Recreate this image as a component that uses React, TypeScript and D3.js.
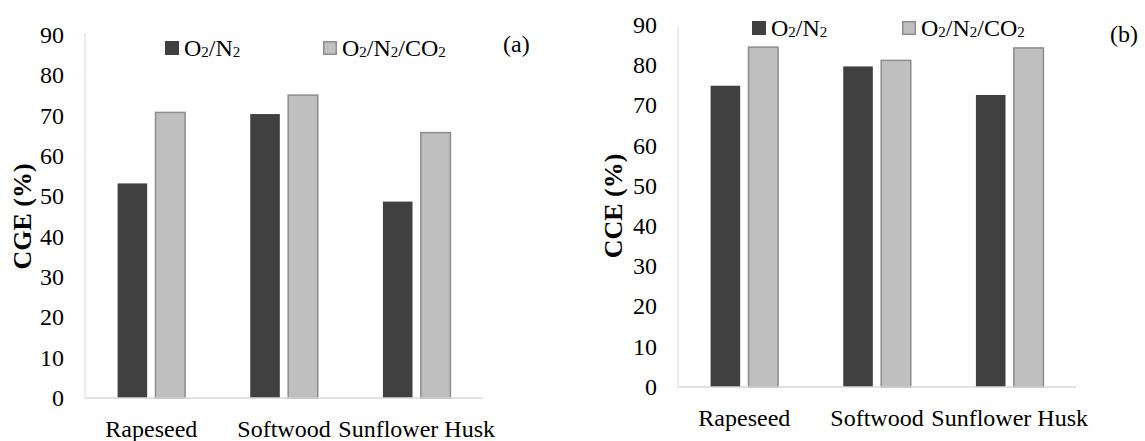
import React from "react";
import * as d3 from "d3";

const categories = ["Rapeseed", "Softwood", "Sunflower Husk"];
const seriesParts = [
  ["O", "2", "/N", "2"],
  ["O", "2", "/N", "2", "/CO", "2"],
];
const cgeO2N2 = [53.2, 70.4, 48.7];
const cgeO2N2CO2 = [70.8, 75.1, 65.8];
const cceO2N2 = [74.9, 79.7, 72.6];
const cceO2N2CO2 = [84.5, 81.2, 84.3];
const yTicks = [0, 10, 20, 30, 40, 50, 60, 70, 80, 90];

const FONT = "'Liberation Serif', 'Times New Roman', serif";
const DARK = "#404040";
const LIGHT = "#bfbfbf";
const LIGHT_STROKE = "#8c8c8c";
const AXIS = "#d9d9d9";

function LegendText({ x, y, parts }: { x: number; y: number; parts: string[] }) {
  return (
    <text x={x} y={y} fontFamily={FONT} fontSize={24} fill="#000">
      {parts.map((s, i) =>
        i % 2 === 1 ? (
          <tspan key={i} fontSize={15} dy={1}>
            {s}
          </tspan>
        ) : (
          <tspan key={i} dy={i === 0 ? 0 : -1}>
            {s}
          </tspan>
        )
      )}
    </text>
  );
}

type PanelProps = {
  x0: number;
  x1: number;
  yTop: number;
  yBottom: number;
  axisTop: number;
  s1: number[];
  s2: number[];
  yLabel: string;
  yLabelX: number;
  catBaseline: number;
  legend: { sq1: number; sq2: number; sqTop: number; baseline: number };
  tag: { text: string; x: number; baseline: number };
};

function Panel(p: PanelProps) {
  const y = d3.scaleLinear().domain([0, 90]).range([p.yBottom, p.yTop]);
  const x = d3.scaleBand<string>().domain(categories).range([p.x0, p.x1]);
  const inner = d3
    .scaleBand<string>()
    .domain(["a", "b"])
    .range([0, 67.5])
    .paddingInner(0.22);
  const offset = (x.bandwidth() - 67.5) / 2;
  const series = [p.s1, p.s2];
  const keys = ["a", "b"];
  return (
    <g>
      <line x1={p.x0} x2={p.x0} y1={p.axisTop} y2={p.yBottom} stroke={AXIS} strokeWidth={1} />
      {categories.map((c, i) =>
        series.map((s, k) => {
          const bx = (x(c) as number) + offset + (inner(keys[k]) as number);
          const top = y(s[i]);
          return (
            <rect
              key={c + k}
              x={bx}
              y={top}
              width={inner.bandwidth()}
              height={p.yBottom - top}
              fill={k === 0 ? DARK : LIGHT}
              stroke={k === 0 ? DARK : LIGHT_STROKE}
              strokeWidth={k === 0 ? 0 : 1.5}
            />
          );
        })
      )}
      <line x1={p.x0} x2={p.x1} y1={p.yBottom} y2={p.yBottom} stroke={AXIS} strokeWidth={1.5} />
      {yTicks.map((t) => (
        <text
          key={t}
          x={p.x0 - 21}
          y={y(t)}
          dy="0.33em"
          textAnchor="end"
          fontFamily={FONT}
          fontSize={24}
          fill="#000"
        >
          {t}
        </text>
      ))}
      {categories.map((c) => (
        <text
          key={c}
          x={(x(c) as number) + x.bandwidth() / 2}
          y={p.catBaseline}
          textAnchor="middle"
          fontFamily={FONT}
          fontSize={24}
          fill="#000"
        >
          {c}
        </text>
      ))}
      <text
        transform={`translate(${p.yLabelX},${(p.yTop + p.yBottom) / 2}) rotate(-90)`}
        textAnchor="middle"
        dy="0.35em"
        fontFamily={FONT}
        fontWeight="bold"
        fontSize={26}
        fill="#000"
      >
        {p.yLabel}
      </text>
      <rect x={p.legend.sq1} y={p.legend.sqTop} width={14} height={14} fill={DARK} />
      <LegendText x={p.legend.sq1 + 19} y={p.legend.baseline} parts={seriesParts[0]} />
      <rect
        x={p.legend.sq2 + 0.75}
        y={p.legend.sqTop + 0.75}
        width={12.5}
        height={12.5}
        fill={LIGHT}
        stroke={LIGHT_STROKE}
        strokeWidth={1.5}
      />
      <LegendText x={p.legend.sq2 + 19} y={p.legend.baseline} parts={seriesParts[1]} />
      <text x={p.tag.x} y={p.tag.baseline} fontFamily={FONT} fontSize={24} fill="#000">
        {p.tag.text}
      </text>
    </g>
  );
}

export default function App() {
  return (
    <svg
      width={1145}
      height={441}
      style={{ position: "absolute", left: 0, top: 0, background: "#fff" }}
    >
      <rect width={1145} height={441} fill="#fff" />
      <Panel
        x0={85}
        x1={483}
        yTop={35}
        yBottom={398}
        axisTop={33}
        s1={cgeO2N2}
        s2={cgeO2N2CO2}
        yLabel="CGE (%)"
        yLabelX={22}
        catBaseline={437}
        legend={{ sq1: 165, sq2: 323, sqTop: 41, baseline: 55.5 }}
        tag={{ text: "(a)", x: 503, baseline: 52 }}
      />
      <Panel
        x0={678}
        x1={1076}
        yTop={25}
        yBottom={387}
        axisTop={26}
        s1={cceO2N2}
        s2={cceO2N2CO2}
        yLabel="CCE (%)"
        yLabelX={613}
        catBaseline={426}
        legend={{ sq1: 752, sq2: 902, sqTop: 21, baseline: 35.5 }}
        tag={{ text: "(b)", x: 1110, baseline: 42 }}
      />
    </svg>
  );
}
